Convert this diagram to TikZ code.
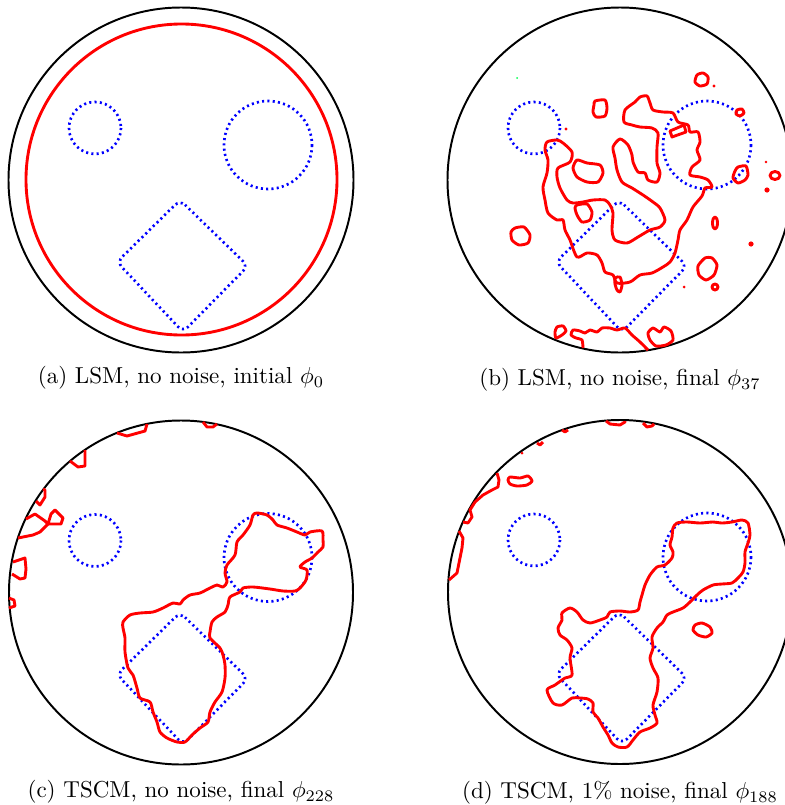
\documentclass[tikz,border=0pt]{standalone}
\usepackage{amsmath,amssymb}
\usepackage{tikz}
\usetikzlibrary{calc}
\tikzset{
  bound/.style={draw=black, line width=0.85pt},
  level/.style={draw=red, line width=1.25pt, line join=round},
  speck/.style={fill=red},
  target/.style={draw=blue, line width=1.15pt, dash pattern=on 0.9pt off 1.4pt},
  subcap/.style={inner sep=0pt, font=\normalsize},
}
\newcommand{\targets}[1]{%
  \begin{scope}[shift={#1}]
    \draw[target] (95,128) circle[radius=26];
    \draw[target] (268,145) circle[radius=44];
    \draw[target, rounded corners=3pt] (180,200) -- (248,266) -- (183,332) -- (117,262) -- cycle;
  \end{scope}}

\begin{document}
\begin{tikzpicture}[x=0.434pt, y=-0.434pt]
  \useasboundingbox (0,0) rectangle (785,805);
  \coordinate (oa) at (181,180);
  \coordinate (ob) at (620,180);
  \coordinate (oc) at (181,592.5);
  \coordinate (od) at (620,592);

  % (a) initial guess
  \draw[bound] (oa) circle[radius=172.5];
  \draw[level] (181.5,179.5) circle[radius=155.5];
  \targets{(0,0)}
  \node[subcap] (capa) at (181,378) {(a) LSM, no noise, initial $\phi_0$};

  % (b) LSM after 37 steps
  \draw[bound] (ob) circle[radius=172.5];
  \targets{(439,0)}
  \draw[level] plot[smooth cycle, tension=0.45] coordinates {
    (557,140) (547,142) (545,150) (548,160) (547,173) (543,187) (545,200) (548,213)
    (557,220) (563,220) (565,230) (570,240) (577,257) (587,253) (597,255) (602,263)
    (605,272) (613,275) (617,283) (630,282) (640,275) (652,273) (663,267) (670,262)
    (675,253) (678,240) (680,230) (687,220) (693,207) (702,196) (705,188) (712,187)
    (708,180) (700,177) (690,175) (692,167) (700,160) (697,150) (700,142) (698,132)
    (690,132) (688,125) (678,122) (673,113) (663,112) (653,110) (650,103) (647,96)
    (640,97) (635,102) (625,110) (624,122) (632,125) (640,127) (652,128) (658,133)
    (657,147) (657,163) (660,173) (657,182) (648,180) (645,173) (638,172) (633,162)
    (632,155) (628,145) (620,139) (613,147) (615,158) (617,170) (622,182) (632,188)
    (643,195) (653,202) (660,208) (665,220) (660,227) (650,230) (638,237) (627,243)
    (615,240) (612,230) (613,213) (610,205) (605,200) (593,200) (583,202) (573,203)
    (567,200) (560,188) (557,177) (558,168) (570,162) (572,152) (563,143)};
  \draw[level] plot[smooth cycle, tension=0.4] coordinates {
    (577,160) (587,163) (600,165) (603,173) (598,182) (587,182) (577,177) (573,168)};
  \draw[level] plot[smooth cycle, tension=0.4] coordinates {
    (577,205) (587,204) (592,212) (590,220) (582,222) (577,215) (575,208)};
  \draw[level] plot[smooth cycle, tension=0.4] coordinates {
    (595,101) (605,100) (607,108) (605,116) (596,117) (593,112) (594,105)};
  \draw[level] plot[smooth cycle, tension=0.4] coordinates {
    (697,75) (703,73) (708,77) (707,84) (700,86) (695,82)};
  \draw[level] plot[smooth cycle, tension=0.4] coordinates {
    (737,110) (742,109) (744,113) (740,116) (736,114)};
  \draw[level] (670,131) -- (684,125) -- (686,132) -- (672,137) -- cycle;
  \draw[level] plot[smooth cycle, tension=0.4] coordinates {
    (738,167) (746,166) (748,175) (745,180) (738,183) (733,178) (735,171)};
  \draw[level] (775,175.5) ellipse[x radius=5, y radius=4];
  \draw[level] (715,223) ellipse[x radius=2.5, y radius=6];
  \draw[level] plot[smooth cycle, tension=0.4] coordinates {
    (705,258) (712,258) (717,265) (714,275) (706,280) (699,275) (698,266)};
  \draw[level] (715,287) circle[radius=3];
  \draw[level] plot[smooth cycle, tension=0.4] coordinates {
    (515,228) (524,227) (530,235) (528,243) (519,245) (512,240) (511,232)};
  \draw[level] plot[smooth cycle, tension=0.4] coordinates {
    (615,278) (620,277) (622,285) (620,292) (617,290) (615,284)};
  \draw[level] plot[smooth cycle, tension=0.4] coordinates {
    (557,327) (563,326) (566,331) (562,335) (556,338) (555,332)};
  \draw[level] plot[smooth cycle, tension=0.4] coordinates {
    (653,328) (660,332) (664,327) (671,331) (673,340) (666,345) (656,346) (650,340) (648,333)};
  \draw[level] plot[smooth, tension=0.4] coordinates {
    (583,348) (582,340) (576,338) (571,335) (573,330) (580,331) (585,333) (590,330)
    (597,332) (602,328) (610,328) (617,330) (625,328) (632,335) (640,342) (648,350)};
  \fill[speck] (566,129) circle[radius=1.6];
  \fill[speck] (714,86) circle[radius=1.6];
  \fill[speck] (766,162) circle[radius=1.3];
  \fill[speck] (767,190) circle[radius=2.6];
  \fill[speck] (751,244) circle[radius=2.6];
  \fill[speck] (684,287) circle[radius=1.5];
  \fill[green!70!cyan] (517,78) circle[radius=1];
  \node[subcap] (capb) at (620,380) {(b) LSM, no noise, final $\phi_{37}$};

  % (c) TSCM, exact data
  \draw[bound] (oc) circle[radius=172];
  \targets{(0,412.5)}
  \draw[level] plot[smooth cycle, tension=0.45] coordinates {
    (257,513) (267,515) (273,520) (277,525) (287,528) (297,532) (305,535) (310,532)
    (322,531) (323,540) (323,547) (318,552) (312,558) (305,562) (300,567) (307,570)
    (306,580) (300,588) (295,591) (283,591) (270,589) (253,587) (243,588) (240,592)
    (230,597) (228,605) (225,612) (217,617) (212,622) (210,632) (210,638) (220,648)
    (223,655) (225,665) (225,678) (222,692) (215,702) (210,712) (208,722) (200,728)
    (192,735) (185,742) (177,742) (167,738) (160,732) (157,722) (153,712) (150,702)
    (140,698) (137,688) (133,675) (128,668) (125,652) (125,638) (123,628) (123,622)
    (130,615) (140,613) (153,612) (163,608) (173,603) (180,604) (183,600) (190,595)
    (200,593) (210,588) (217,585) (223,587) (227,582) (225,573) (227,565) (235,555)
    (237,542) (243,535) (250,525) (253,515)};
  \draw[level] (117,433) -- (127,436) -- (145,431) -- (147,424);
  \draw[level] (203,422) -- (207,427) -- (213,427) -- (217,424);
  \draw[level] (70,461) -- (78,467) -- (85,466) -- (85,450);
  \draw[level] (36,501) -- (40,505) -- (45,497) -- (45,490) -- (43,489);
  \draw[level] (26,519) -- (35,514) -- (45,521) -- (48,524) -- (40,532) -- (33,535) -- (18,538);
  \draw[level] (48,524) -- (51,514) -- (55,510) -- (63,518) -- (61,524) -- cycle;
  \draw[level] (13,562) -- (25,558) -- (26,569) -- (25,578) -- (20,579) -- (12,574);
  \draw[level] (9,598) -- (14,600) -- (15,606) -- (9,608);
  \node[subcap] (capc) at (181,792) {(c) TSCM, no noise, final $\phi_{228}$};

  % (d) TSCM, 1% noise
  \draw[bound] (od) circle[radius=172];
  \targets{(439,412)}
  \draw[level] plot[smooth cycle, tension=0.45] coordinates {
    (677,523) (687,522) (700,523) (713,522) (722,523) (732,522) (742,520) (748,523)
    (750,535) (748,543) (745,552) (745,563) (743,572) (738,578) (732,583) (722,584)
    (713,585) (703,590) (697,595) (690,602) (683,608) (673,612) (667,615) (663,622)
    (657,628) (652,637) (653,648) (650,658) (653,668) (658,678) (657,692) (653,705)
    (655,715) (657,723) (650,728) (640,732) (633,740) (627,747) (618,747) (612,743)
    (608,735) (603,727) (598,718) (593,712) (593,703) (588,699) (580,698) (572,698)
    (562,705) (553,703) (547,690) (555,685) (565,678) (572,675) (570,658) (572,648)
    (567,640) (560,635) (558,628) (562,620) (562,613) (570,608) (577,612) (583,620)
    (590,623) (600,620) (607,617) (610,612) (620,611) (630,612) (638,610) (640,602)
    (642,595) (645,585) (650,575) (657,567) (665,565) (672,558) (673,552) (670,545)
    (672,537) (673,528)};
  \draw[level] plot[smooth cycle, tension=0.4] coordinates {
    (695,625) (702,623) (710,627) (712,633) (706,637) (698,635) (693,630)};
  \draw[level] plot[smooth cycle, tension=0.4] coordinates {
    (510,477) (520,478) (528,476) (532,481) (527,485) (517,486) (510,484) (508,480)};
  \draw[level] (606,421) -- (610,424) -- (620,425) -- (625,422) -- (625,421);
  \draw[level] (643,423) -- (647,427) -- (652,426) -- (654,424);
  \draw[level] (562,430) -- (565,432) -- (568,430);
  \draw[level] (537,443) -- (540,445) -- (543,442);
  \fill[speck] (522,453) circle[radius=1.5];
  \draw[level] (497,473) -- (499,480) -- (498,487) -- (492,490) -- (483,495) -- (475,502)
    -- (470,510) -- (472,517) -- (468,523) -- (463,522);
  \draw[level] (459,531) -- (463,538) -- (462,548) -- (460,558) -- (457,573) -- (449,580);
  \node[subcap] (capd) at (620,793) {(d) TSCM, 1\% noise, final $\phi_{188}$};
\end{tikzpicture}
\end{document}
